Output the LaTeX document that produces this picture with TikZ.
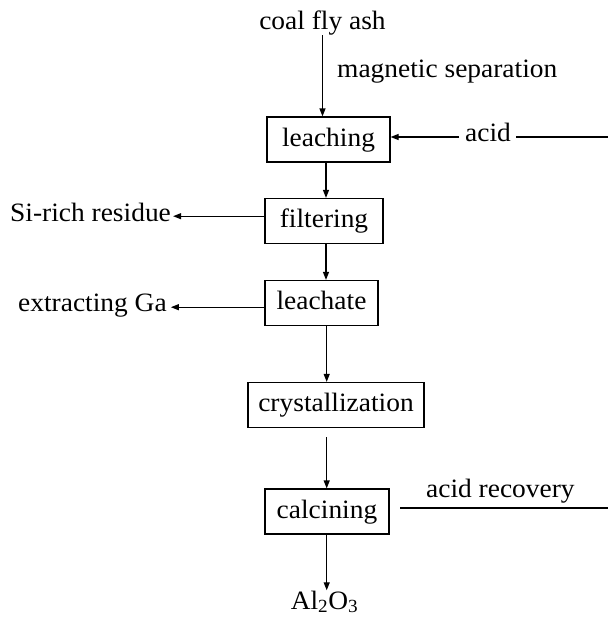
\documentclass[tikz,border=0pt]{standalone}
\usepackage{fontspec}
\setmainfont[FakeStretch=1.035]{Liberation Serif}
\usetikzlibrary{arrows.meta}
\begin{document}
\begin{tikzpicture}[x=1pt,y=-1pt,
  every node/.style={font=\fontsize{26.5}{31}\selectfont, inner sep=0pt},
  lbl/.style={text height=18.5pt, text depth=5.5pt},
  proc/.style={draw, line width=1.2pt, minimum height=45pt, text height=19pt, text depth=6pt},
  flow/.style={line width=1.2pt, -{Triangle[length=8pt,width=6pt]}},
  plain/.style={line width=1.2pt}]
\useasboundingbox (0,0) rectangle (608,624);
% process boxes
\node[proc, minimum width=123pt] (leach) at (328.5,139.5) {leaching};
\node[proc, minimum width=118pt] (filt) at (324,221) {filtering};
\node[proc, minimum width=113pt] (leachate) at (321.5,303) {leachate};
\node[proc, minimum width=176pt] (cryst) at (336,405) {crystallization};
\node[proc, minimum width=124pt] (calc) at (327,511.5) {calcining};
% labels
\node[lbl, anchor=base] (cfa) at (322.5,29.5) {coal fly ash};
\node[lbl, anchor=base west] (mag) at (337,77) {magnetic separation};
\node[lbl, anchor=base west] (acid) at (465,141) {acid};
\node[lbl, anchor=base west] (si) at (10,221.7) {Si-rich residue};
\node[lbl, anchor=base west] (ga) at (18,311.7) {extracting Ga};
\node[lbl, anchor=base west] (rec) at (426,497) {acid recovery};
\node[lbl, anchor=base] (al) at (324.5,609) {Al\textsubscript{2}O\textsubscript{3}};
% helper coordinates
\coordinate (x1) at (326,0);
\coordinate (x2) at (326.7,0);
\coordinate (re) at (608,0);
\coordinate (cl) at (400,508);
\coordinate (aw) at ([xshift=-6pt,yshift=-2.5pt]acid.west);
\coordinate (ae) at ([xshift=5pt,yshift=-2.5pt]acid.east);
\coordinate (sie) at ([xshift=2pt,yshift=-1pt]si.east);
\coordinate (gae) at ([xshift=4pt,yshift=-2pt]ga.east);
% connectors
\draw[flow] (cfa.south) -- (cfa.south |- leach.north);
\draw[flow] (aw) -- (leach.east |- aw);
\draw[plain] (ae) -- (re |- ae);
\draw[flow] (leach.south -| x1) -- (filt.north -| x1);
\draw[flow] (filt.west |- sie) -- (sie);
\draw[flow] (filt.south -| x1) -- (leachate.north -| x1);
\draw[flow] (leachate.west |- gae) -- (gae);
\draw[flow] (leachate.south -| x2) -- (cryst.north -| x2);
\draw[flow] (cryst.south -| x2) ++(0,9) -- (calc.north -| x2);
\draw[flow] (calc.south -| x2) -- (al.north -| x2);
\draw[plain] (cl) -- (re |- cl);
\end{tikzpicture}
\end{document}
